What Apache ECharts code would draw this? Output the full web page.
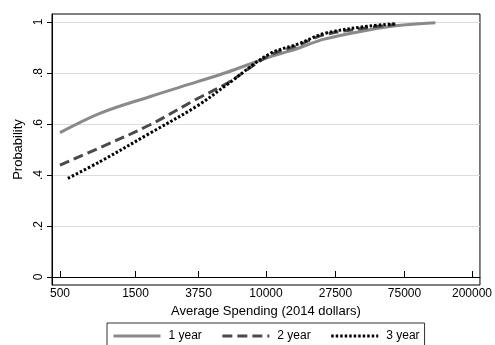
<!DOCTYPE html>
<html>
<head>
<meta charset="utf-8">
<script src="https://cdn.jsdelivr.net/npm/echarts@6/dist/echarts.min.js"></script>
<style>
  html, body { margin: 0; padding: 0; background: #fff; }
  #chart { width: 495px; height: 345px; }
</style>
</head>
<body>
<div id="chart"></div>
<script>
// Axis ticks
const spendingTicks = [500, 1500, 3750, 10000, 27500, 75000, 200000];
const probTicks = [0, 0.2, 0.4, 0.6, 0.8, 1];
const probTickLabels = ['0', '.2', '.4', '.6', '.8', '1'];

// Predicted probability by average spending (2014 dollars)
const spending1yr = [500, 893, 1840, 3700, 5690, 10460, 16160, 23300, 44550, 65850, 117500];
const prob1yr     = [0.566, 0.642, 0.707, 0.766, 0.803, 0.862, 0.898, 0.933, 0.969, 0.985, 0.997];

const spending2yr = [500, 893, 1840, 3700, 5690, 10460, 16160, 23300, 44550, 65850];
const prob2yr     = [0.439, 0.507, 0.596, 0.700, 0.760, 0.868, 0.910, 0.950, 0.978, 0.990];

const spending3yr = [561, 893, 1840, 3700, 5690, 10460, 16160, 23300, 44550, 65850];
const prob3yr     = [0.387, 0.452, 0.563, 0.672, 0.755, 0.874, 0.915, 0.955, 0.984, 0.993];

const seriesNames = ['1 year', '2 year', '3 year'];

const FONT = '"Liberation Sans", Arial, Helvetica, sans-serif';

function pairs(xs, ys) {
  return xs.map((x, i) => [x, ys[i]]);
}

function probLabel(v) {
  let best = 0;
  probTicks.forEach((t, i) => {
    if (Math.abs(t - v) < Math.abs(probTicks[best] - v)) best = i;
  });
  return probTickLabels[best];
}

const chart = echarts.init(document.getElementById('chart'), null, { renderer: 'canvas' });

const option = {
  animation: false,
  textStyle: { fontFamily: FONT, color: '#000' },
  grid: {
    left: 52, right: 13, top: 14, bottom: 60,
    show: true, borderColor: '#000', borderWidth: 1, backgroundColor: '#fff'
  },
  xAxis: {
    type: 'log',
    logBase: 10,
    min: 445.3,
    max: 224600,
    name: 'Average Spending (2014 dollars)',
    nameLocation: 'middle',
    nameGap: 9,
    nameTextStyle: { fontSize: 13, color: '#000', fontFamily: FONT },
    axisLine: { lineStyle: { color: '#000', width: 1 } },
    axisTick: { inside: true, length: 6, customValues: spendingTicks, lineStyle: { color: '#000' } },
    axisLabel: {
      customValues: spendingTicks,
      fontSize: 12, color: '#000', margin: 3, fontFamily: FONT,
      formatter: v => String(Math.round(v))
    },
    minorTick: { show: false },
    splitLine: { show: false }
  },
  yAxis: {
    type: 'value',
    min: -0.0314,
    max: 1.0314,
    name: 'Probability',
    nameLocation: 'middle',
    nameGap: 27,
    nameTextStyle: { fontSize: 13, color: '#000', fontFamily: FONT },
    axisLine: { show: true, lineStyle: { color: '#000', width: 1 } },
    axisTick: { show: true, length: 5, customValues: probTicks, lineStyle: { color: '#000' } },
    axisLabel: {
      customValues: probTicks,
      rotate: 90, fontSize: 12, color: '#000', margin: 7, fontFamily: FONT,
      formatter: v => probLabel(v)
    },
    splitLine: { show: true, lineStyle: { color: '#dcdcdc', width: 1 } }
  },
  legend: {
    data: seriesNames,
    left: 107,
    top: 323,
    width: 320,
    padding: [7, 5, 8, 5],
    itemGap: 19,
    itemWidth: 47,
    itemHeight: 12,
    borderColor: '#333',
    borderWidth: 1,
    backgroundColor: '#fff',
    // line-only keys: hide the marker drawn over the middle of each key
    itemStyle: { opacity: 0, borderWidth: 0 },
    lineStyle: { width: 3 },
    textStyle: { fontSize: 12, color: '#000', fontFamily: FONT, padding: [0, 0, 0, 3] }
  },
  series: [
    {
      name: seriesNames[0],
      type: 'line',
      data: pairs(spending1yr, prob1yr),
      smooth: 0.35,
      showSymbol: false,
      symbol: 'none',
      lineStyle: { color: '#8a8a8a', width: 3, cap: 'butt' },
      itemStyle: { color: '#8a8a8a' },
      z: 2
    },
    {
      name: seriesNames[1],
      type: 'line',
      data: pairs(spending2yr, prob2yr),
      smooth: 0.35,
      showSymbol: false,
      symbol: 'none',
      lineStyle: { color: '#4a4a4a', width: 3, type: [10, 5], cap: 'butt' },
      itemStyle: { color: '#4a4a4a' },
      z: 3
    },
    {
      name: seriesNames[2],
      type: 'line',
      data: pairs(spending3yr, prob3yr),
      smooth: 0.35,
      showSymbol: false,
      symbol: 'none',
      lineStyle: { color: '#000', width: 3, type: [2.5, 2], cap: 'butt' },
      itemStyle: { color: '#000' },
      z: 4
    }
  ]
};

chart.setOption(option);
</script>
</body>
</html>
